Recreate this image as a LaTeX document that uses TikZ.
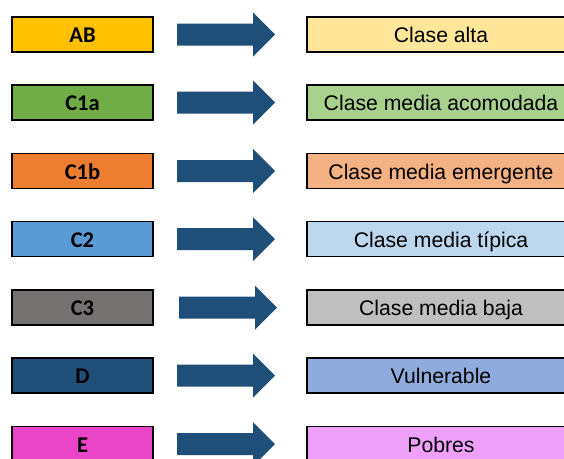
\documentclass[tikz,border=0pt]{standalone}
\usepackage{fontspec}
\setmainfont{Liberation Sans}
\newfontfamily\codefont{Carlito}

\definecolor{arrowblue}{HTML}{1F4E79}
\definecolor{cAB}{HTML}{FFC000}
\definecolor{cCa}{HTML}{70AD47}
\definecolor{cCb}{HTML}{ED7D31}
\definecolor{cCtwo}{HTML}{5B9BD5}
\definecolor{cCthree}{HTML}{767171}
\definecolor{cD}{HTML}{1F4E79}
\definecolor{cE}{HTML}{EA44C9}
\definecolor{lAB}{HTML}{FFE699}
\definecolor{lCa}{HTML}{A9D18E}
\definecolor{lCb}{HTML}{F4B183}
\definecolor{lCtwo}{HTML}{BDD7EE}
\definecolor{lCthree}{HTML}{BFBFBF}
\definecolor{lD}{HTML}{8FAADC}
\definecolor{lE}{HTML}{EFA0F8}

\tikzset{
  codebox/.style={draw=black, line width=1.6pt, minimum width=141pt,
    minimum height=35pt, inner sep=0pt, text height=16pt, text depth=0pt,
    font=\codefont\bfseries\fontsize{22.5}{22}\selectfont},
  classbox/.style={draw=black, line width=1.6pt, minimum width=268pt,
    minimum height=35pt, inner sep=0pt, text height=16.5pt, text depth=0pt,
    font=\fontsize{21.2}{22}\selectfont},
  blockarrow/.pic={
    \fill[arrowblue] (-49,-11) -- (27,-11) -- (27,-22) -- (49,0)
      -- (27,22) -- (27,11) -- (-49,11) -- cycle;
  }
}

\begin{document}
\begin{tikzpicture}[x=1pt,y=-1pt]
\useasboundingbox (0,0) rectangle (564,458);
\clip (0,0) rectangle (564,458);
\fill[white] (0,0) rectangle (564,458);

\foreach \name/\code/\cc/\label/\lc/\ypos/\ax in {
  ab/AB/cAB/Clase alta/lAB/34.5/226,
  cia/C1a/cCa/Clase media acomodada/lCa/102.5/226,
  cib/C1b/cCb/Clase media emergente/lCb/171/226,
  ctwo/C2/cCtwo/Clase media típica/lCtwo/239/226,
  cthree/C3/cCthree/Clase media baja/lCthree/307.5/228,
  d/D/cD/Vulnerable/lD/375.5/226,
  e/E/cE/Pobres/lE/444/226}
{
  \node[codebox, fill=\cc] (code-\name) at (82.5,\ypos) {\code};
  \node[classbox, fill=\lc] (class-\name) at (441,\ypos) {\label};
  \pic at (\ax,\ypos) {blockarrow};
}
\end{tikzpicture}
\end{document}
